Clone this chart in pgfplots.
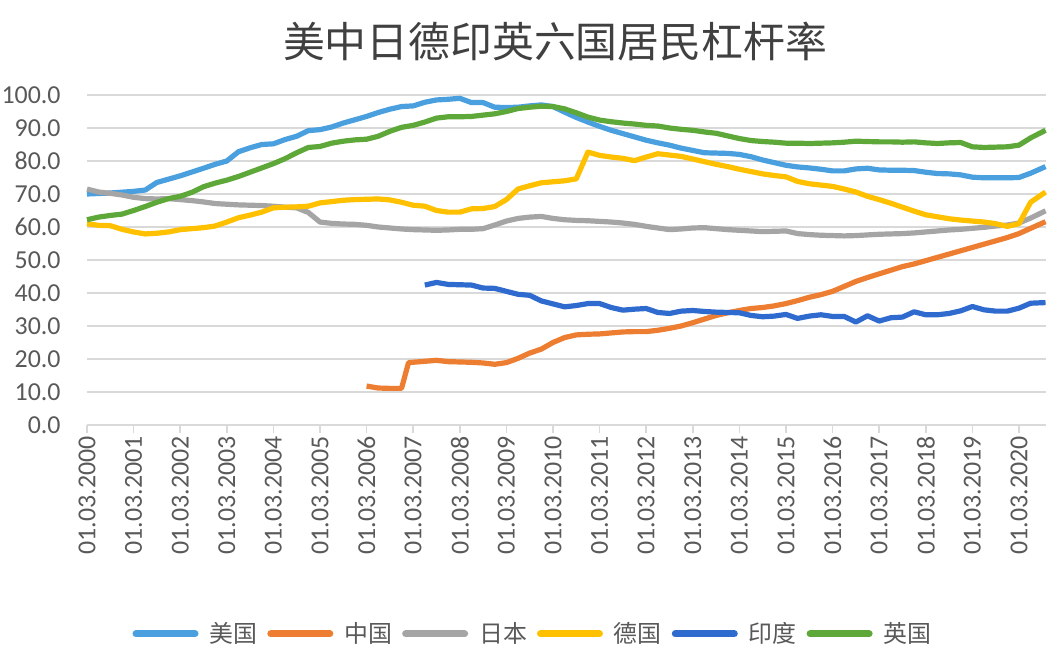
\documentclass[border=0pt]{standalone}
\usepackage{fontspec}
\setmainfont{Carlito}
\newfontfamily\cjk{Noto Sans CJK SC}
\usepackage{pgfplots}
\pgfplotsset{compat=1.18}

\definecolor{cUS}{HTML}{4A9FDE}
\definecolor{cCN}{HTML}{ED7D31}
\definecolor{cJP}{HTML}{A5A5A5}
\definecolor{cDE}{HTML}{FFC000}
\definecolor{cIN}{HTML}{2F6BCF}
\definecolor{cUK}{HTML}{5EA83A}
\definecolor{gridc}{HTML}{D9D9D9}
\definecolor{labelc}{HTML}{595959}
\definecolor{titlec}{HTML}{404040}

\begin{document}
\begin{tikzpicture}
\path[use as bounding box] (0,0) rectangle (531bp,327bp);
\node[font=\cjk\fontsize{21}{21}\selectfont, text=titlec] at (277.5bp,306bp) {美中日德印英六国居民杠杆率};
\begin{axis}[
  at={(43.5bp,114.5bp)}, anchor=south west,
  scale only axis, width=479.5bp, height=165bp,
  xmin=0, xmax=20.58, ymin=0, ymax=100,
  clip=false,
  xtick={0,...,20},
  xticklabels={01.03.2000,01.03.2001,01.03.2002,01.03.2003,01.03.2004,01.03.2005,01.03.2006,01.03.2007,01.03.2008,01.03.2009,01.03.2010,01.03.2011,01.03.2012,01.03.2013,01.03.2014,01.03.2015,01.03.2016,01.03.2017,01.03.2018,01.03.2019,01.03.2020},
  ytick={0,10,...,100},
  yticklabel style={font=\fontsize{13}{13}\selectfont, text=labelc, anchor=east, inner sep=0pt, xshift=-9bp,
    /pgf/number format/fixed, /pgf/number format/fixed zerofill, /pgf/number format/precision=1,
    /pgf/number format/assume math mode=true},
  xticklabel style={font=\fontsize{13}{13}\selectfont, text=labelc, yshift=-1.5bp, rotate=90, anchor=east, inner sep=0pt},
  axis lines*=left,
  x axis line style={draw=gridc, line width=0.75bp},
  y axis line style={draw=none},
  ytick style={draw=none},
  xtick style={draw=gridc, line width=0.75bp},
  tick align=outside, major tick length=4bp,
  ymajorgrids, grid style={draw=gridc, line width=0.75bp},
  every axis plot/.append style={line width=2.6bp, line join=round, no markers},
  legend columns=6,
  legend style={at={(0.464,-0.633)}, anchor=center, draw=none, fill=none,
    font=\cjk\fontsize{12}{12}\selectfont, text=labelc, nodes={inner sep=0pt},
    /tikz/every odd column/.append style={column sep=5.5bp},
    /tikz/every even column/.append style={column sep=5bp}},
  legend image code/.code={\draw[#1, line width=3.5bp, line cap=round] (1.75bp,0bp) -- (31.25bp,0bp);},
]
% 美国
\addplot[cUS] coordinates {
(0,70) (0.5,70.3) (1.0,70.8) (1.25,71.2) (1.5,73.5) (1.75,74.5) (2.0,75.5) (2.5,77.8) (2.75,79) (3.0,80)
(3.25,82.8) (3.5,84) (3.75,85) (4.0,85.2) (4.25,86.5) (4.5,87.5) (4.75,89.2) (5.0,89.5) (5.25,90.3) (5.5,91.5)
(5.75,92.5) (6.0,93.5) (6.25,94.7) (6.5,95.7) (6.75,96.5) (7.0,96.7) (7.25,97.8) (7.5,98.5) (7.75,98.7) (8.0,99)
(8.25,97.7) (8.5,97.7) (8.75,96.3) (9.0,96.2) (9.25,96.3) (9.5,96.7) (9.75,97) (10.0,96.5) (10.25,94.8) (10.5,93.2)
(10.75,91.8) (11.0,90.5) (11.25,89.3) (11.5,88.3) (11.75,87.3) (12.0,86.3) (12.25,85.5) (12.5,84.8) (12.75,83.9) (13.0,83.2)
(13.25,82.5) (13.5,82.4) (13.75,82.3) (14.0,82) (14.25,81.3) (14.5,80.3) (14.75,79.5) (15.0,78.7) (15.25,78.2) (15.5,77.9)
(15.75,77.5) (16.0,77) (16.25,77) (16.5,77.6) (16.75,77.8) (17.0,77.3) (17.25,77.2) (17.5,77.2) (17.75,77.1) (18.0,76.6)
(18.25,76.2) (18.5,76.1) (18.75,75.8) (19.0,75.1) (19.25,74.9) (19.5,74.9) (19.75,74.9) (20.0,75) (20.25,76.3) (20.57,78.3)
};
\addlegendentry{美国}
% 中国
\addplot[cCN] coordinates {
(6.0,11.8) (6.25,11.2) (6.5,11.1) (6.75,11.1) (6.9,18.9) (7.25,19.3) (7.5,19.6) (7.75,19.2) (8.0,19.1) (8.25,19)
(8.5,18.8) (8.75,18.4) (9.0,18.9) (9.25,20.2) (9.5,21.8) (9.75,23) (10.0,25) (10.25,26.5) (10.5,27.3) (10.75,27.5)
(11.0,27.6) (11.25,27.9) (11.5,28.2) (11.75,28.3) (12.0,28.3) (12.25,28.7) (12.5,29.3) (12.75,30) (13.0,31) (13.25,32.1)
(13.5,33.2) (13.75,34) (14.0,34.7) (14.25,35.3) (14.5,35.6) (14.75,36.1) (15.0,36.8) (15.25,37.7) (15.5,38.7) (15.75,39.5)
(16.0,40.5) (16.25,42) (16.5,43.5) (16.75,44.7) (17.0,45.8) (17.25,46.9) (17.5,48) (17.75,48.8) (18.0,49.8) (18.25,50.8)
(18.5,51.8) (18.75,52.8) (19.0,53.8) (19.25,54.8) (19.5,55.8) (19.75,56.8) (20.0,58) (20.25,59.6) (20.57,61.6)
};
\addlegendentry{中国}
% 日本
\addplot[cJP] coordinates {
(0,71.5) (0.25,70.6) (0.5,70.2) (0.75,69.7) (1.0,69) (1.25,68.6) (1.5,68.5) (1.75,68.6) (2.0,68.3) (2.25,68)
(2.5,67.6) (2.75,67.1) (3.0,66.9) (3.25,66.7) (3.5,66.6) (3.75,66.5) (4.0,66.3) (4.25,66) (4.5,65.8) (4.75,64.4)
(5.0,61.5) (5.25,61.1) (5.5,60.9) (5.75,60.8) (6.0,60.5) (6.25,60) (6.5,59.7) (6.75,59.4) (7.0,59.2) (7.25,59.1)
(7.5,59) (7.75,59.1) (8.0,59.3) (8.25,59.3) (8.5,59.5) (8.75,60.6) (9.0,61.8) (9.25,62.6) (9.5,63) (9.75,63.2)
(10.0,62.6) (10.25,62.2) (10.5,62) (10.75,61.9) (11.0,61.7) (11.25,61.5) (11.5,61.2) (11.75,60.8) (12.0,60.2) (12.25,59.7)
(12.5,59.2) (12.75,59.4) (13.0,59.7) (13.25,59.8) (13.5,59.5) (13.75,59.2) (14.0,59) (14.25,58.8) (14.5,58.6) (14.75,58.7)
(15.0,58.8) (15.25,58) (15.5,57.7) (15.75,57.5) (16.0,57.4) (16.25,57.3) (16.5,57.4) (16.75,57.6) (17.0,57.8) (17.25,57.9)
(17.5,58) (17.75,58.2) (18.0,58.5) (18.25,58.8) (18.5,59.1) (18.75,59.3) (19.0,59.6) (19.25,59.9) (19.5,60.3) (19.75,60.6)
(20.0,61.2) (20.25,62.7) (20.57,64.9)
};
\addlegendentry{日本}
% 德国
\addplot[cDE] coordinates {
(0,61) (0.25,60.5) (0.5,60.4) (0.75,59.3) (1.0,58.5) (1.25,57.9) (1.5,58.1) (1.75,58.5) (2.0,59.2) (2.25,59.5)
(2.5,59.8) (2.75,60.3) (3.0,61.5) (3.25,62.8) (3.5,63.6) (3.75,64.5) (4.0,65.8) (4.25,66) (4.5,66.1) (4.75,66.3)
(5.0,67.3) (5.25,67.7) (5.5,68.1) (5.75,68.3) (6.0,68.4) (6.25,68.5) (6.5,68.2) (6.75,67.5) (7.0,66.6) (7.25,66.3)
(7.5,65) (7.75,64.5) (8.0,64.5) (8.25,65.5) (8.5,65.6) (8.75,66.2) (9.0,68.3) (9.25,71.5) (9.5,72.5) (9.75,73.4)
(10.0,73.7) (10.25,74) (10.5,74.6) (10.75,82.7) (11.0,81.7) (11.25,81.2) (11.5,80.8) (11.75,80.1) (12.0,81.2) (12.25,82.2)
(12.5,81.8) (12.75,81.4) (13.0,80.6) (13.25,79.8) (13.5,79) (13.75,78.3) (14.0,77.5) (14.25,76.8) (14.5,76.1) (14.75,75.6)
(15.0,75.2) (15.25,73.8) (15.5,73.1) (15.75,72.7) (16.0,72.3) (16.25,71.5) (16.5,70.6) (16.75,69.3) (17.0,68.3) (17.25,67.2)
(17.5,66) (17.75,64.8) (18.0,63.7) (18.25,63.1) (18.5,62.5) (18.75,62.1) (19.0,61.8) (19.25,61.5) (19.5,61) (19.75,60.2)
(20.0,61) (20.25,67.5) (20.57,70.6)
};
\addlegendentry{德国}
% 印度
\addplot[cIN] coordinates {
(7.25,42.4) (7.5,43.2) (7.75,42.6) (8.0,42.5) (8.25,42.4) (8.5,41.5) (8.75,41.4) (9.0,40.5) (9.25,39.6) (9.5,39.3)
(9.75,37.6) (10.0,36.7) (10.25,35.8) (10.5,36.2) (10.75,36.8) (11.0,36.8) (11.25,35.6) (11.5,34.8) (11.75,35.1) (12.0,35.3)
(12.25,34.1) (12.5,33.8) (12.75,34.5) (13.0,34.7) (13.25,34.4) (13.5,34.2) (13.75,34.1) (14.0,34) (14.25,33.2) (14.5,32.8)
(14.75,33) (15.0,33.5) (15.25,32.3) (15.5,33) (15.75,33.4) (16.0,32.9) (16.25,32.9) (16.5,31.2) (16.75,33.1) (17.0,31.5)
(17.25,32.5) (17.5,32.7) (17.75,34.3) (18.0,33.4) (18.25,33.4) (18.5,33.8) (18.75,34.6) (19.0,35.9) (19.25,34.9) (19.5,34.5)
(19.75,34.5) (20.0,35.4) (20.25,36.9) (20.57,37.1)
};
\addlegendentry{印度}
% 英国
\addplot[cUK] coordinates {
(0,62.2) (0.25,63) (0.5,63.5) (0.75,63.9) (1.0,65) (1.25,66.2) (1.5,67.5) (1.75,68.6) (2.0,69.3) (2.25,70.5)
(2.5,72.2) (2.75,73.3) (3.0,74.2) (3.25,75.3) (3.5,76.6) (3.75,77.9) (4.0,79.2) (4.25,80.7) (4.5,82.5) (4.75,84.1)
(5.0,84.4) (5.25,85.4) (5.5,86) (5.75,86.4) (6.0,86.6) (6.25,87.5) (6.5,89) (6.75,90.2) (7.0,90.8) (7.25,91.8)
(7.5,93) (7.75,93.4) (8.0,93.4) (8.25,93.5) (8.5,93.9) (8.75,94.3) (9.0,95) (9.25,95.9) (9.5,96.3) (9.75,96.6)
(10.0,96.5) (10.25,95.8) (10.5,94.6) (10.75,93.3) (11.0,92.4) (11.25,91.9) (11.5,91.5) (11.75,91.2) (12.0,90.8) (12.25,90.6)
(12.5,90) (12.75,89.6) (13.0,89.3) (13.25,88.8) (13.5,88.4) (13.75,87.6) (14.0,86.8) (14.25,86.2) (14.5,85.9) (14.75,85.7)
(15.0,85.4) (15.25,85.4) (15.5,85.3) (15.75,85.4) (16.0,85.5) (16.25,85.7) (16.5,86) (16.75,85.9) (17.0,85.8) (17.25,85.8)
(17.5,85.7) (17.75,85.8) (18.0,85.5) (18.25,85.3) (18.5,85.5) (18.75,85.6) (19.0,84.3) (19.25,84.1) (19.5,84.2) (19.75,84.3)
(20.0,84.8) (20.25,87) (20.57,89.3)
};
\addlegendentry{英国}
\end{axis}
\end{tikzpicture}
\end{document}
